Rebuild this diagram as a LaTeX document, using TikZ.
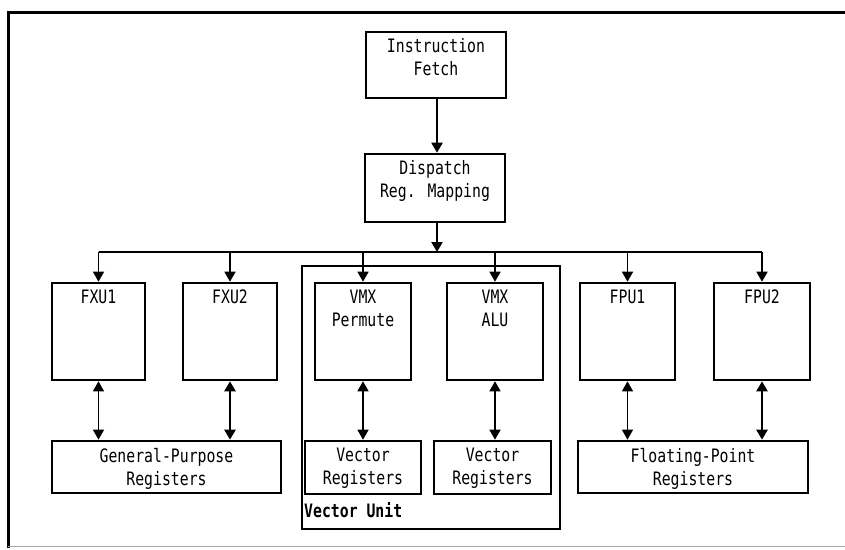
\documentclass[tikz,border=0pt]{standalone}
\usepackage{fontspec}
\setmainfont[FakeStretch=0.8]{DejaVu Sans Mono}
\usetikzlibrary{arrows.meta}
\begin{document}
\begin{tikzpicture}[x=1pt,y=-1pt,
  font=\fontsize{18.5}{23}\selectfont,
  box/.style={draw,line width=2.6pt,inner sep=0pt},
  lbl/.style={anchor=north,inner sep=0pt,align=center,yshift=-8pt},
  tip/.style={},
  flow/.style={line width=2.2pt,-{Triangle[width=11pt,length=10pt]}},
  drop/.style={line width=1.5pt,-{Triangle[width=11pt,length=10pt]}},
  both/.style={line width=1.5pt,{Triangle[width=11pt,length=10pt]}-{Triangle[width=11pt,length=10pt]}},
  boththick/.style={both,line width=2.4pt},
  boththin/.style={both,line width=1.1pt}]
\useasboundingbox (0,0) rectangle (845,549);
% outer frame
\draw[line width=3pt] (845,12) -- (8,12) -- (8,548);
\draw[line width=0.6pt,black!35] (8,546) -- (845,546);

% helper: a box given by its corners, with top-aligned text
\newcommand\unitbox[6]{%
  \node[box,minimum width={#4-#2},minimum height={#5-#3}] (#1) at ({(#2+#4)/2},{(#3+#5)/2}) {};
  \node[lbl] (#1-t) at (#1.north) {#6};}

\unitbox{ifetch}{366}{32}{506}{98}{Instruction\\Fetch}
\unitbox{disp}{365}{154}{505}{222}{Dispatch\\Reg. Mapping}

\unitbox{fxu1}{52}{283}{145}{380}{FXU1}
\unitbox{fxu2}{183}{283}{277}{380}{FXU2}
\unitbox{vmxp}{315}{283}{411}{380}{VMX\\Permute}
\unitbox{vmxa}{447}{283}{543}{380}{VMX\\ALU}
\unitbox{fpu1}{580}{283}{675}{380}{FPU1}
\unitbox{fpu2}{714}{283}{810}{380}{FPU2}

\unitbox{gpr}{52}{441}{281}{493}{General-Purpose\\Registers}
\unitbox{vr1}{305}{441}{421}{494}{Vector\\Registers}
\unitbox{vr2}{434}{441}{551}{494}{Vector\\Registers}
\unitbox{fpr}{578}{441}{808}{493}{Floating-Point\\Registers}

% vector unit enclosure
\node[box,line width=2.8pt,minimum width=258,minimum height=263] (vu) at (431,397.5) {};
\node[anchor=west,inner sep=0pt,font=\fontsize{18.5}{23}\selectfont\bfseries] (vut) at (304,510) {Vector Unit};

% issue bus
\coordinate (bus) at (437,252);
\draw[flow] (ifetch.south -| 437,0) -- (disp.north -| 437,0);
\draw[flow] (disp.south -| 437,0) -- (bus);
\draw[line width=2.2pt] (fxu1.north |- bus) -- (fpu2.north |- bus);
\foreach \u in {fxu1,fxu2,vmxp,vmxa,fpu1,fpu2}
  \draw[drop] (\u.north |- bus) -- (\u.north);

% unit <-> register file
\draw[boththin]  (fxu1.south) -- (fxu1.south |- gpr.north);
\draw[boththick] (fxu2.south) -- (fxu2.south |- gpr.north);
\draw[both]      (vmxp.south) -- (vmxp.south |- vr1.north);
\draw[both]      (vmxa.south) -- (vmxa.south |- vr2.north);
\draw[boththin]  (fpu1.south) -- (fpu1.south |- fpr.north);
\draw[boththick] (fpu2.south) -- (fpu2.south |- fpr.north);
\end{tikzpicture}
\end{document}
